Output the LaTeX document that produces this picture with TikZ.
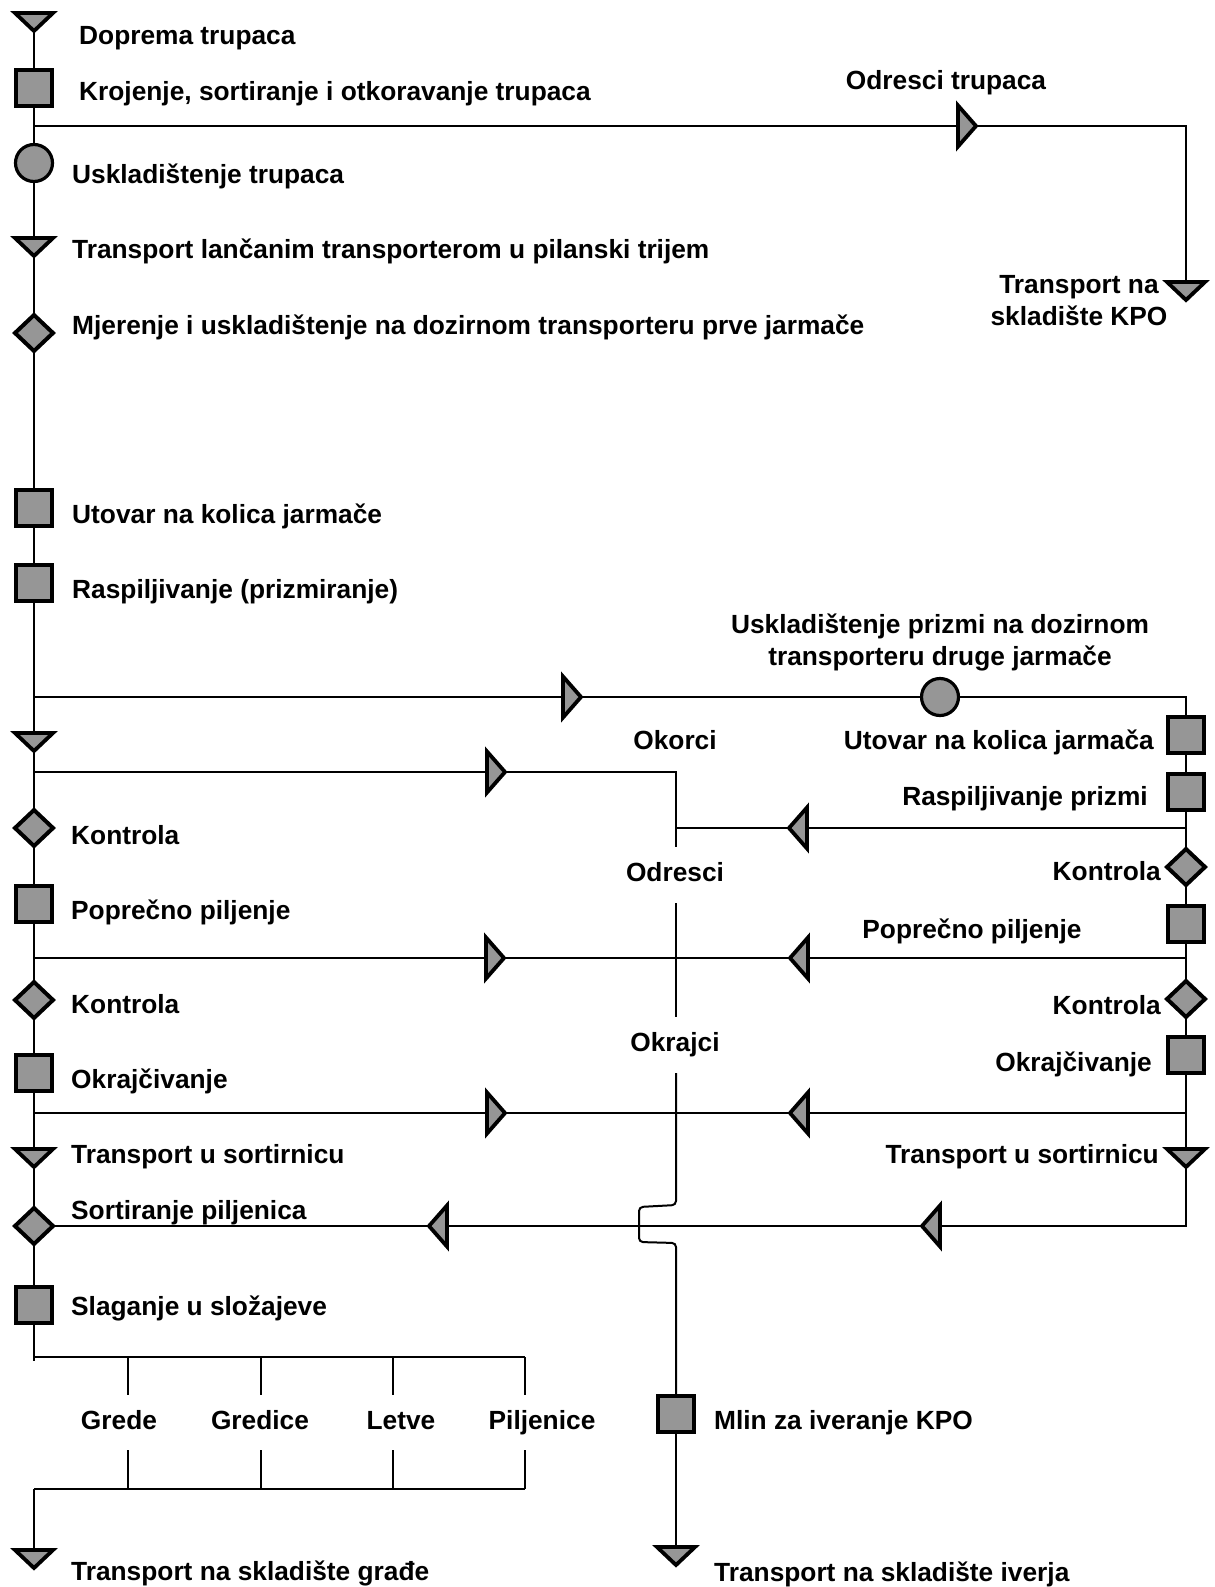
\documentclass[tikz,border=0pt]{standalone}
\usepackage{fontspec}
\setmainfont{Liberation Sans}
\usetikzlibrary{shapes.geometric}
\definecolor{shapegray}{RGB}{150,150,150}
\pgfdeclarelayer{bg}
\pgfsetlayers{bg,main}
\tikzset{
  sym/.style={draw, line width=4pt, fill=shapegray, inner sep=0pt, outer sep=0pt},
  opbox/.style={sym, rectangle, minimum size=36pt},
  storebox/.style={sym, circle, minimum size=37pt, line width=3.2pt},
  checkbox/.style={sym, diamond, minimum width=38pt, minimum height=36pt},
  % base length = minimum width, apex-to-base length = minimum height
  tri/.style={sym, isosceles triangle, isosceles triangle stretches, anchor=apex, line width=3.8pt},
  tridown/.style={tri, shape border rotate=270, minimum width=38pt, minimum height=18pt},
  triright/.style={tri, shape border rotate=0, minimum width=41pt, minimum height=18pt},
  trileft/.style={tri, shape border rotate=180, minimum width=41pt, minimum height=18pt},
  flow/.style={line width=2pt},
  lbl/.style={font=\bfseries\fontsize{26.3}{31.5}\selectfont, inner sep=0pt},
}
\begin{document}
\begin{tikzpicture}[x=1pt, y=-1pt]
\path[use as bounding box] (0,0) rectangle (1215,1587);

% ---- main (left) column ----
\node[tridown]  (tA) at (34,31) {};
\node[opbox]    (sA) at (34,88) {};
\node[storebox] (cA) at (34,163) {};
\node[tridown]  (tC) at (34,256) {};
\node[checkbox] (dA) at (34,333) {};
\node[opbox]    (sB) at (34,508) {};
\node[opbox]    (sC) at (34,583) {};
\node[tridown]  (tD) at (34,751) {};
\node[checkbox] (dB) at (34,828) {};
\node[opbox]    (sD) at (34,904) {};
\node[checkbox] (dC) at (34,1000) {};
\node[opbox]    (sE) at (34,1073) {};
\node[tridown]  (tE) at (34,1167) {};
\node[checkbox] (dD) at (34,1226) {};
\node[opbox]    (sF) at (34,1305) {};
\node[tridown]  (tF) at (34,1568) {};

% ---- log offcuts branch ----
\node[triright] (tOdr) at (976,126) {};
\node[tridown]  (tB) at (1186,300) {};

% ---- cant branch and second frame saw (right column) ----
\node[triright] (tR2) at (581,697) {};
\node[storebox] (cB) at (940,697) {};
\node[opbox]    (sH) at (1186,735) {};
\node[opbox]    (sI) at (1186,792) {};
\node[checkbox] (dE) at (1186,867) {};
\node[opbox]    (sJ) at (1186,924) {};
\node[checkbox] (dF) at (1186,999) {};
\node[opbox]    (sK) at (1186,1055) {};
\node[tridown]  (tH) at (1186,1167) {};

% ---- waste collection arrows ----
\node[triright] (tR3) at (505,772) {};
\node[trileft]  (tL1) at (789,828) {};
\node[triright] (tR4) at (504,958) {};
\node[trileft]  (tL2) at (790,958) {};
\node[triright] (tR5) at (505,1113) {};
\node[trileft]  (tL3) at (790,1113) {};
\node[trileft]  (tL4) at (922,1226) {};
\node[trileft]  (tL5) at (429,1226) {};

% ---- chipper ----
\node[opbox]    (sG) at (676,1414) {};
\node[tridown]  (tG) at (676,1565) {};

% ---- junction and bend points ----
\coordinate (j126) at (34,126);
\coordinate (r126) at (1186,126);
\coordinate (j697) at (34,697);
\coordinate (r697) at (1186,697);
\coordinate (j772) at (34,772);
\coordinate (m772) at (676,772);
\coordinate (m847) at (676,847);
\coordinate (m828) at (676,828);
\coordinate (r828) at (1186,828);
\coordinate (m903) at (676,903);
\coordinate (m1017) at (676,1017);
\coordinate (m1073) at (676,1073);
\coordinate (m1205) at (676,1205);
\coordinate (hopA) at (639,1207);
\coordinate (hopB) at (639,1242);
\coordinate (m1243) at (676,1243);
\coordinate (j958) at (34,958);
\coordinate (r958) at (1186,958);
\coordinate (j1113) at (34,1113);
\coordinate (r1113) at (1186,1113);
\coordinate (r1226) at (1186,1226);
\coordinate (fork) at (34,1357);
\coordinate (forkTick) at (34,1361);
\coordinate (join) at (34,1489);
\foreach \n/\x in {1/128,2/261,3/393,4/525}{
  \coordinate (u\n) at (\x,1357);
  \coordinate (ue\n) at (\x,1395);
  \coordinate (ls\n) at (\x,1450);
  \coordinate (l\n) at (\x,1489);
}

\begin{pgfonlayer}{bg}
  \draw[flow] (tA.center) -- (sA.center) -- (cA.center) -- (tC.center) -- (dA.center)
    -- (sB.center) -- (sC.center) -- (tD.center) -- (dB.center) -- (sD.center)
    -- (dC.center) -- (sE.center) -- (tE.center) -- (dD.center) -- (sF.center) -- (forkTick);
  \draw[flow] (j126) -- (tOdr.center) -- (r126) -- (tB.center);
  \draw[flow] (j697) -- (tR2.center) -- (cB.center) -- (r697) -- (sH.center) -- (sI.center)
    -- (dE.center) -- (sJ.center) -- (dF.center) -- (sK.center) -- (tH.center) -- (r1226)
    -- (tL4.center) -- (tL5.center) -- (dD.center);
  \draw[flow] (j772) -- (tR3.center) -- (m772) -- (m847);
  \draw[flow] (r828) -- (tL1.center) -- (m828);
  \draw[flow] (j958) -- (tR4.center) -- (tL2.center) -- (r958);
  \draw[flow] (j1113) -- (tR5.center) -- (tL3.center) -- (r1113);
  \draw[flow] (m903) -- (m1017);
  \draw[flow, rounded corners=4pt] (m1073) -- (m1205) -- (hopA) -- (hopB) -- (m1243) -- (sG.center);
  \draw[flow] (sG.center) -- (tG.center);
  \draw[flow] (fork) -- (u4);
  \draw[flow] (join) -- (l4);
  \draw[flow] (join) -- (tF.center);
  \foreach \n in {1,2,3,4}{
    \draw[flow] (u\n) -- (ue\n);
    \draw[flow] (ls\n) -- (l\n);
  }
\end{pgfonlayer}

% ---- labels ----
\begin{scope}[every node/.style={lbl}]
\node[anchor=base west] (xA) at (79,45) {Doprema trupaca};
\node[anchor=base west] (xB) at (79,100) {Krojenje, sortiranje i otkoravanje trupaca};
\node[anchor=base] (xC) at (946,89) {Odresci trupaca};
\node[anchor=base, align=center] (xD) at (1079,325) {Transport na\\skladište KPO};
\node[anchor=base west] (xE) at (72,183) {Uskladištenje trupaca};
\node[anchor=base west] (xF) at (72,258) {Transport lančanim transporterom u pilanski trijem};
\node[anchor=base west] (xG) at (72,334) {Mjerenje i uskladištenje na dozirnom transporteru prve jarmače};
\node[anchor=base west] (xH) at (72,523) {Utovar na kolica jarmače};
\node[anchor=base west] (xI) at (72,598) {Raspiljivanje (prizmiranje)};
\node[anchor=base, align=center] (xJ) at (940,665) {Uskladištenje prizmi na dozirnom\\transporteru druge jarmače};
\node[anchor=base] (xK) at (675,749) {Okorci};
\node[anchor=base east] (xL) at (1154,749) {Utovar na kolica jarmača};
\node[anchor=base east] (xM) at (1148,805) {Raspiljivanje prizmi};
\node[anchor=base west] (xN) at (71,844) {Kontrola};
\node[anchor=base] (xO) at (675,881) {Odresci};
\node[anchor=base east] (xP) at (1161,880) {Kontrola};
\node[anchor=base west] (xQ) at (71,919) {Poprečno piljenje};
\node[anchor=base] (xR) at (972,938) {Poprečno piljenje};
\node[anchor=base west] (xS) at (71,1013) {Kontrola};
\node[anchor=base east] (xT) at (1161,1014) {Kontrola};
\node[anchor=base] (xU) at (675,1051) {Okrajci};
\node[anchor=base west] (xV) at (71,1088) {Okrajčivanje};
\node[anchor=base east] (xW) at (1152,1071) {Okrajčivanje};
\node[anchor=base west] (xX) at (71,1163) {Transport u sortirnicu};
\node[anchor=base east] (xY) at (1159,1163) {Transport u sortirnicu};
\node[anchor=base west] (xZ) at (71,1219) {Sortiranje piljenica};
\node[anchor=base west] (yA) at (71,1315) {Slaganje u složajeve};
\node[anchor=base] (yB) at (119,1429) {Grede};
\node[anchor=base] (yC) at (260,1429) {Gredice};
\node[anchor=base] (yD) at (401,1429) {Letve};
\node[anchor=base] (yE) at (542,1429) {Piljenice};
\node[anchor=base west] (yF) at (714,1429) {Mlin za iveranje KPO};
\node[anchor=base west] (yG) at (71,1580) {Transport na skladište građe};
\node[anchor=base west] (yH) at (714,1581) {Transport na skladište iverja};
\end{scope}
\end{tikzpicture}
\end{document}
